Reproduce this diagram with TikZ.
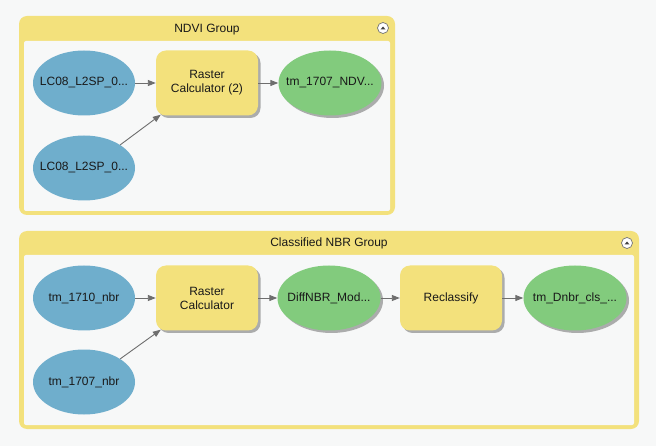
\documentclass[tikz,border=0pt]{standalone}
\usepackage{fontspec}
\setmainfont{Liberation Sans}
\usepackage{tikz}
\usetikzlibrary{arrows.meta,shadows,positioning,calc,shapes.geometric}
\usepackage{xcolor}
\definecolor{pagebg}{RGB}{247,248,248}
\definecolor{grpyellow}{RGB}{243,225,124}
\definecolor{toolyellow}{RGB}{243,225,124}
\definecolor{datablue}{RGB}{111,174,204}
\definecolor{outgreen}{RGB}{130,203,125}
\definecolor{linkgray}{RGB}{110,110,110}
\newcommand{\lbl}[1]{\makebox[0pt]{#1}}
\tikzset{
  mshadow/.style={drop shadow={shadow xshift=2.5pt,shadow yshift=-2.5pt,fill=black!45,opacity=0.7}},
  dataset/.style={ellipse,fill=datablue,minimum width=102pt,minimum height=65pt,inner sep=0pt,text=black!90},
  outset/.style={ellipse,fill=outgreen,minimum width=103pt,minimum height=65pt,inner sep=0pt,text=black!90,mshadow},
  toolbox/.style={rectangle,rounded corners=10pt,fill=toolyellow,minimum width=102pt,minimum height=65pt,
                  align=center,inner sep=0pt,text=black!90,mshadow},
  link/.style={draw=linkgray,line width=0.9pt,-{Triangle[length=8pt,width=6pt]}},
  grouptitle/.style={anchor=base,text=black!90},
  collapse/.style={fill=white,draw=black!55,line width=0.7pt}
}
\begin{document}
\begin{tikzpicture}[x=1pt,y=-1pt,font=\fontsize{12}{14}\selectfont]
 \useasboundingbox (0,0) rectangle (656,446);
 \fill[pagebg] (0,0) rectangle (656,446);
 % NDVI group frame
 \fill[grpyellow,rounded corners=8pt] (19,16) rectangle (395,215);
 \fill[pagebg,rounded corners=2pt] (24,41) rectangle (390,211);
 \node[grouptitle] (ndvititle) at (207,33) {NDVI Group};
 \draw[collapse] (383,28) circle (5.5);
 \fill[black!75] (380.5,29.5) -- (383,26.5) -- (385.5,29.5) -- cycle;
 % Classified NBR group frame
 \fill[grpyellow,rounded corners=8pt] (19,231) rectangle (639,429);
 \fill[pagebg,rounded corners=2pt] (24,255) rectangle (634,425);
 \node[grouptitle] (nbrtitle) at (329,247) {Classified NBR Group};
 \draw[collapse] (627,243) circle (5.5);
 \fill[black!75] (624.5,244.5) -- (627,241.5) -- (629.5,244.5) -- cycle;
 % NDVI nodes
 \node[dataset] (lcA) at (84,83) {\lbl{LC08\_L2SP\_0...}};
 \node[dataset] (lcB) at (84,168) {\lbl{LC08\_L2SP\_0...}};
 \node[toolbox] (rcalcB) at (207,83) {Raster\\Calculator (2)};
 \node[outset] (ndvi) at (330,83) {\lbl{tm\_1707\_NDV...}};
 % NBR nodes
 \node[dataset] (nbrA) at (84,298) {\lbl{tm\_1710\_nbr}};
 \node[dataset] (nbrB) at (84,382) {\lbl{tm\_1707\_nbr}};
 \node[toolbox] (rcalc) at (207,298) {Raster\\Calculator};
 \node[outset] (diff) at (329,298) {\lbl{DiffNBR\_Mod...}};
 \node[toolbox] (recl) at (451,298) {Reclassify};
 \node[outset] (dnbr) at (575,298) {\lbl{tm\_Dnbr\_cls\_...}};
 % connectors
 \foreach \a/\b in {lcA/rcalcB,rcalcB/ndvi,nbrA/rcalc,rcalc/diff,diff/recl,recl/dnbr}
   \draw[link] (\a) -- (\b);
 \draw[link] (lcB.north east) -- ($(rcalcB.south west)+(5,-1)$);
 \draw[link] (nbrB.north east) -- ($(rcalc.south west)+(5,-1)$);
\end{tikzpicture}
\end{document}
